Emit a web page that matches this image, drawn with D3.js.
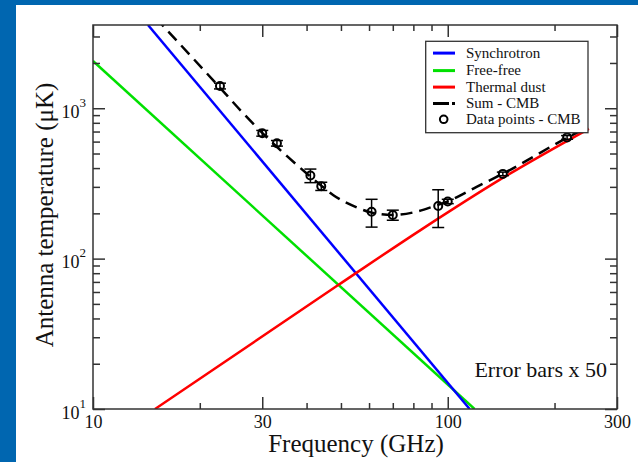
<!DOCTYPE html>
<html><head><meta charset="utf-8">
<script src="https://cdn.jsdelivr.net/npm/d3@7"></script>
<style>
html,body{margin:0;padding:0;background:#fff;}
svg{display:block;}
</style></head><body>
<svg id="c" width="638" height="462"></svg>
<script>
// ---- data ----
const freqMajorTicks = [10, 30, 100, 300];
const freqMinorTicks = [20, 40, 50, 60, 70, 80, 90, 200];
const tempMajorTicks = [10, 100, 1000];
const tempMinorTicks = [20, 30, 40, 50, 60, 70, 80, 90, 200, 300, 400, 500, 600, 700, 800, 900, 2000, 3000];
const tempExponents = ["1", "2", "3"];

const synchrotron = [[14.29, 3577], [115.3, 10]];
const freeFree = [[10, 2062], [119, 10]];
const thermalDust = [[14.95, 10], [49, 66.5], [84, 155.4], [140.3, 335], [250, 730]];
const sumMinusCMB = [[15, 4000], [22.7, 1385], [26.3, 945], [30.1, 680], [35.3, 478], [40.5, 360],
  [43.9, 307], [47.5, 265], [55.4, 219], [60.7, 203], [69.9, 195], [80.8, 204], [91, 222],
  [100, 240], [120.6, 300], [142.8, 366], [217.8, 640], [250, 757]];

const dataFreq = [22.8, 30, 33, 41, 44, 61, 70, 94, 100, 143, 217];
const dataTemp = [1406, 682, 585, 357, 303, 205, 195, 224, 240, 366, 640];
const dataSigma = [1.24, 0.6, 0.5, 0.74, 0.38, 0.86, 0.3, 1.26, 0.16, 0.2, 0.36];
const errorScale = 50;

const legendLabels = ["Synchrotron", "Free-free", "Thermal dust", "Sum - CMB", "Data points - CMB"];
const seriesColors = ["#0000ff", "#00e000", "#ff0000", "#000000", "#000000"];

// ---- layout ----
const W = 638, H = 462;
const L = 93, R = 617, T = 25, B = 409;
const FONT = "'Liberation Serif', 'Times New Roman', serif";
const svg = d3.select("#c");

svg.append("rect").attr("width", W).attr("height", H).attr("fill", "#0066b0");
svg.append("rect").attr("x", 16).attr("y", 5).attr("width", W - 16).attr("height", H - 5).attr("fill", "#ffffff");

const x = d3.scaleLog().domain([10, 300]).range([L, R]);
const y = d3.scaleLog().domain([10, 3577]).range([B, T]);

svg.append("clipPath").attr("id", "clip").append("rect")
  .attr("x", L).attr("y", T).attr("width", R - L).attr("height", B - T);

const plot = svg.append("g").attr("clip-path", "url(#clip)");
const line = d3.line().x(d => x(d[0])).y(d => y(d[1]));

plot.append("path").datum(freeFree).attr("d", line).attr("fill", "none")
  .attr("stroke", seriesColors[1]).attr("stroke-width", 2.5);
plot.append("path").datum(synchrotron).attr("d", line).attr("fill", "none")
  .attr("stroke", seriesColors[0]).attr("stroke-width", 2.5);
plot.append("path").datum(thermalDust).attr("d", line.curve(d3.curveMonotoneX)).attr("fill", "none")
  .attr("stroke", seriesColors[2]).attr("stroke-width", 2.5);
plot.append("path").datum(sumMinusCMB).attr("d", d3.line().x(d => x(d[0])).y(d => y(d[1])).curve(d3.curveMonotoneX))
  .attr("fill", "none").attr("stroke", "#000").attr("stroke-width", 2.5).attr("stroke-dasharray", "12,7");

// data points with error bars
const pts = dataFreq.map((f, i) => ({f, t: dataTemp[i], e: dataSigma[i] * errorScale}));
const eb = plot.append("g").attr("stroke", "#000").attr("stroke-width", 1.5);
pts.forEach(p => {
  const cx = x(p.f), y1 = y(p.t + p.e), y2 = y(p.t - p.e);
  eb.append("line").attr("x1", cx).attr("x2", cx).attr("y1", y1).attr("y2", y2);
  eb.append("line").attr("x1", cx - 6).attr("x2", cx + 6).attr("y1", y1).attr("y2", y1);
  eb.append("line").attr("x1", cx - 6).attr("x2", cx + 6).attr("y1", y2).attr("y2", y2);
});
plot.append("g").selectAll("circle").data(pts).join("circle")
  .attr("cx", d => x(d.f)).attr("cy", d => y(d.t)).attr("r", 4)
  .attr("fill", "none").attr("stroke", "#000").attr("stroke-width", 2);

// ---- axes ----
function styleAxis(g) {
  g.select(".domain").remove();
  g.attr("color", "#333").attr("font-family", FONT).attr("font-size", 18);
  g.selectAll(".tick line").attr("stroke-width", 1.5);
  g.selectAll(".tick text").attr("fill", "#111");
}
svg.append("g").attr("transform", `translate(0,${B})`)
  .call(d3.axisBottom(x).tickValues(freqMajorTicks).tickSize(-12).tickPadding(6).tickFormat(d3.format("d")))
  .call(styleAxis);
svg.append("g").attr("transform", `translate(0,${B})`)
  .call(d3.axisBottom(x).tickValues(freqMinorTicks).tickSize(-6).tickFormat(""))
  .call(styleAxis);
svg.append("g").attr("transform", `translate(0,${T})`)
  .call(d3.axisTop(x).tickValues(freqMajorTicks).tickSize(-12).tickFormat(""))
  .call(styleAxis);
svg.append("g").attr("transform", `translate(0,${T})`)
  .call(d3.axisTop(x).tickValues(freqMinorTicks).tickSize(-6).tickFormat(""))
  .call(styleAxis);

const yl = svg.append("g").attr("transform", `translate(${L},0)`)
  .call(d3.axisLeft(y).tickValues(tempMajorTicks).tickSize(-12).tickPadding(7).tickFormat(() => "10"))
  .call(styleAxis);
yl.selectAll(".tick text").attr("dy", "0.52em").each(function(d, i) {
  d3.select(this).append("tspan").attr("dy", -11).attr("font-size", 13).text(tempExponents[i]);
});
svg.append("g").attr("transform", `translate(${L},0)`)
  .call(d3.axisLeft(y).tickValues(tempMinorTicks).tickSize(-7).tickFormat(""))
  .call(styleAxis);
svg.append("g").attr("transform", `translate(${R},0)`)
  .call(d3.axisRight(y).tickValues(tempMajorTicks).tickSize(-12).tickFormat(""))
  .call(styleAxis);
svg.append("g").attr("transform", `translate(${R},0)`)
  .call(d3.axisRight(y).tickValues(tempMinorTicks).tickSize(-7).tickFormat(""))
  .call(styleAxis);

// frame
svg.append("rect").attr("x", L).attr("y", T).attr("width", R - L).attr("height", B - T)
  .attr("fill", "none").attr("stroke", "#333").attr("stroke-width", 1.5);

// titles
svg.append("text").attr("x", 356).attr("y", 452).attr("text-anchor", "middle")
  .attr("font-family", FONT).attr("font-size", 25).attr("fill", "#111").text("Frequency (GHz)");
svg.append("text").attr("transform", "translate(52.5,215) rotate(-90)").attr("text-anchor", "middle")
  .attr("font-family", FONT).attr("font-size", 25).attr("fill", "#111").text("Antenna temperature (\u03BCK)");

svg.append("text").attr("x", 607).attr("y", 376.7).attr("text-anchor", "end")
  .attr("font-family", FONT).attr("font-size", 22).attr("fill", "#111").text("Error bars x 50");

// ---- legend ----
const lg = svg.append("g");
lg.append("rect").attr("x", 425.7).attr("y", 41.3).attr("width", 162.3).attr("height", 91.4)
  .attr("fill", "#fff").attr("stroke", "#333").attr("stroke-width", 1.3);
const baselines = [57.8, 75.3, 91.8, 108.3, 124];
legendLabels.forEach((lab, i) => {
  const by = baselines[i], cy = by - 4.7;
  if (i < 3) {
    lg.append("line").attr("x1", 433).attr("x2", 455).attr("y1", cy).attr("y2", cy)
      .attr("stroke", seriesColors[i]).attr("stroke-width", 3);
  } else if (i === 3) {
    lg.append("line").attr("x1", 433).attr("x2", 455).attr("y1", cy).attr("y2", cy)
      .attr("stroke", "#000").attr("stroke-width", 3).attr("stroke-dasharray", "16,3");
  } else {
    lg.append("circle").attr("cx", 443.7).attr("cy", cy).attr("r", 3.8)
      .attr("fill", "none").attr("stroke", "#000").attr("stroke-width", 2);
  }
  lg.append("text").attr("x", 466).attr("y", by).attr("font-family", FONT).attr("font-size", 15)
    .attr("fill", "#111").text(lab);
});
</script>
</body></html>
